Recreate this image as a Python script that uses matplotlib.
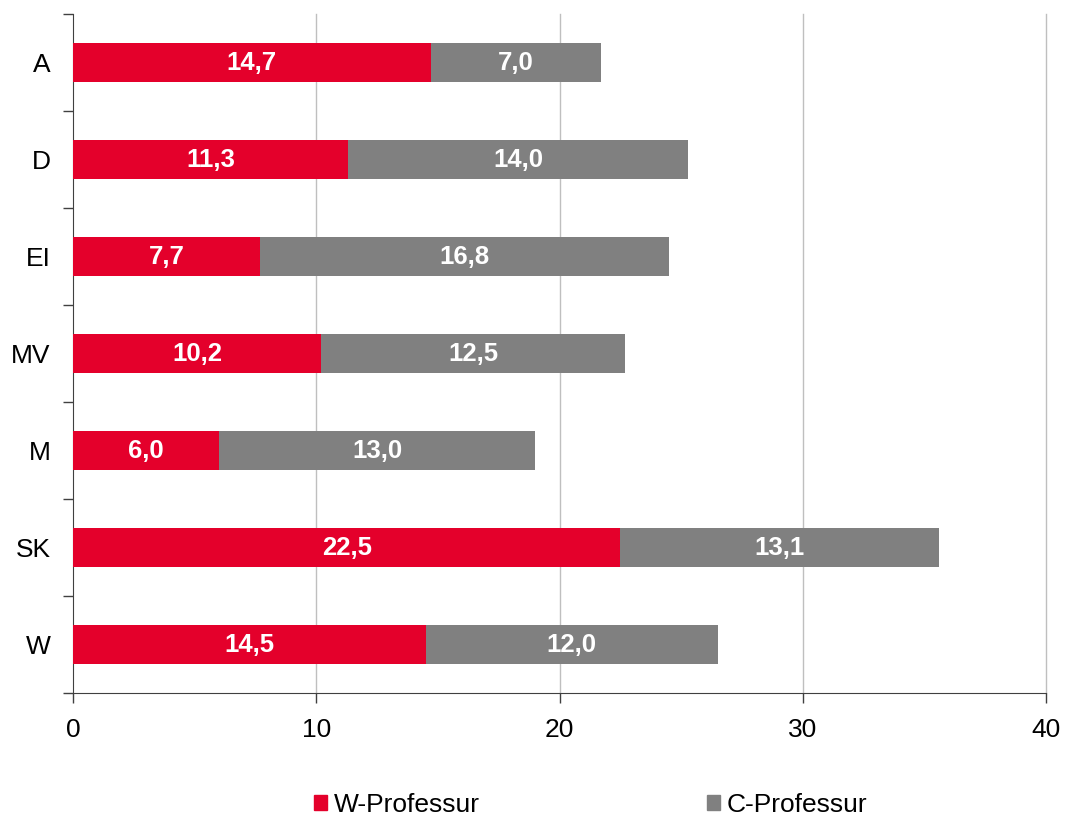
import numpy as np
import matplotlib.pyplot as plt
from matplotlib.patches import Patch

plt.rcParams['font.family'] = ['Liberation Sans', 'DejaVu Sans']

# Daten
kategorien = ['A', 'D', 'EI', 'MV', 'M', 'SK', 'W']
w_professur = [14.7, 11.3, 7.7, 10.2, 6.0, 22.5, 14.5]
c_professur = [7.0, 14.0, 16.8, 12.5, 13.0, 13.1, 12.0]
serien = ['W-Professur', 'C-Professur']

rot = '#E4002B'
grau = '#808080'

fig = plt.figure(figsize=(10.68, 8.21), dpi=100)
ax = fig.add_axes([73 / 1068, 1 - 693 / 821, (1046 - 73) / 1068, (693 - 14) / 821])

y = np.arange(len(kategorien))
b1 = ax.barh(y, w_professur, height=0.4, color=rot, zorder=3)
b2 = ax.barh(y, c_professur, left=w_professur, height=0.4, color=grau, zorder=3)

fmt = lambda v: f"{v:.1f}".replace('.', ',')
ax.bar_label(b1, labels=[fmt(v) for v in w_professur], label_type='center',
             color='white', fontweight='bold', fontsize=18.5)
ax.bar_label(b2, labels=[fmt(v) for v in c_professur], label_type='center',
             color='white', fontweight='bold', fontsize=18.5)

ax.set_ylim(len(kategorien) - 0.5, -0.5)
ax.set_xlim(0, 40)
ax.set_xticks([0, 10, 20, 30, 40])
ax.set_yticks(y)
ax.set_yticklabels(kategorien)
ax.set_yticks(np.arange(-0.5, len(kategorien), 1), minor=True)

ax.tick_params(axis='y', which='major', length=0, pad=16, labelsize=19)
ax.tick_params(axis='y', which='minor', length=7, width=1, color='#404040')
ax.tick_params(axis='x', which='major', length=7, width=1, color='#404040',
               pad=11, labelsize=19)

# vertikale Gitterlinien (auch bei 40 voll sichtbar)
for xv in ax.get_xticks()[1:]:
    ax.axvline(xv, color='#BFBFBF', linewidth=1, zorder=0, clip_on=False)
for s in ['top', 'right']:
    ax.spines[s].set_visible(False)
ax.spines['left'].set_color('#404040')
ax.spines['bottom'].set_color('#404040')

handles = [Patch(color=rot), Patch(color=grau)]
fig.legend(handles, serien, loc='center', bbox_to_anchor=(0.553, 0.02), ncol=2,
           frameon=False, fontsize=19, handlelength=0.5, handleheight=0.5,
           handletextpad=0.25, columnspacing=8.6, borderpad=0)

fig.savefig('out.png', dpi=100)
